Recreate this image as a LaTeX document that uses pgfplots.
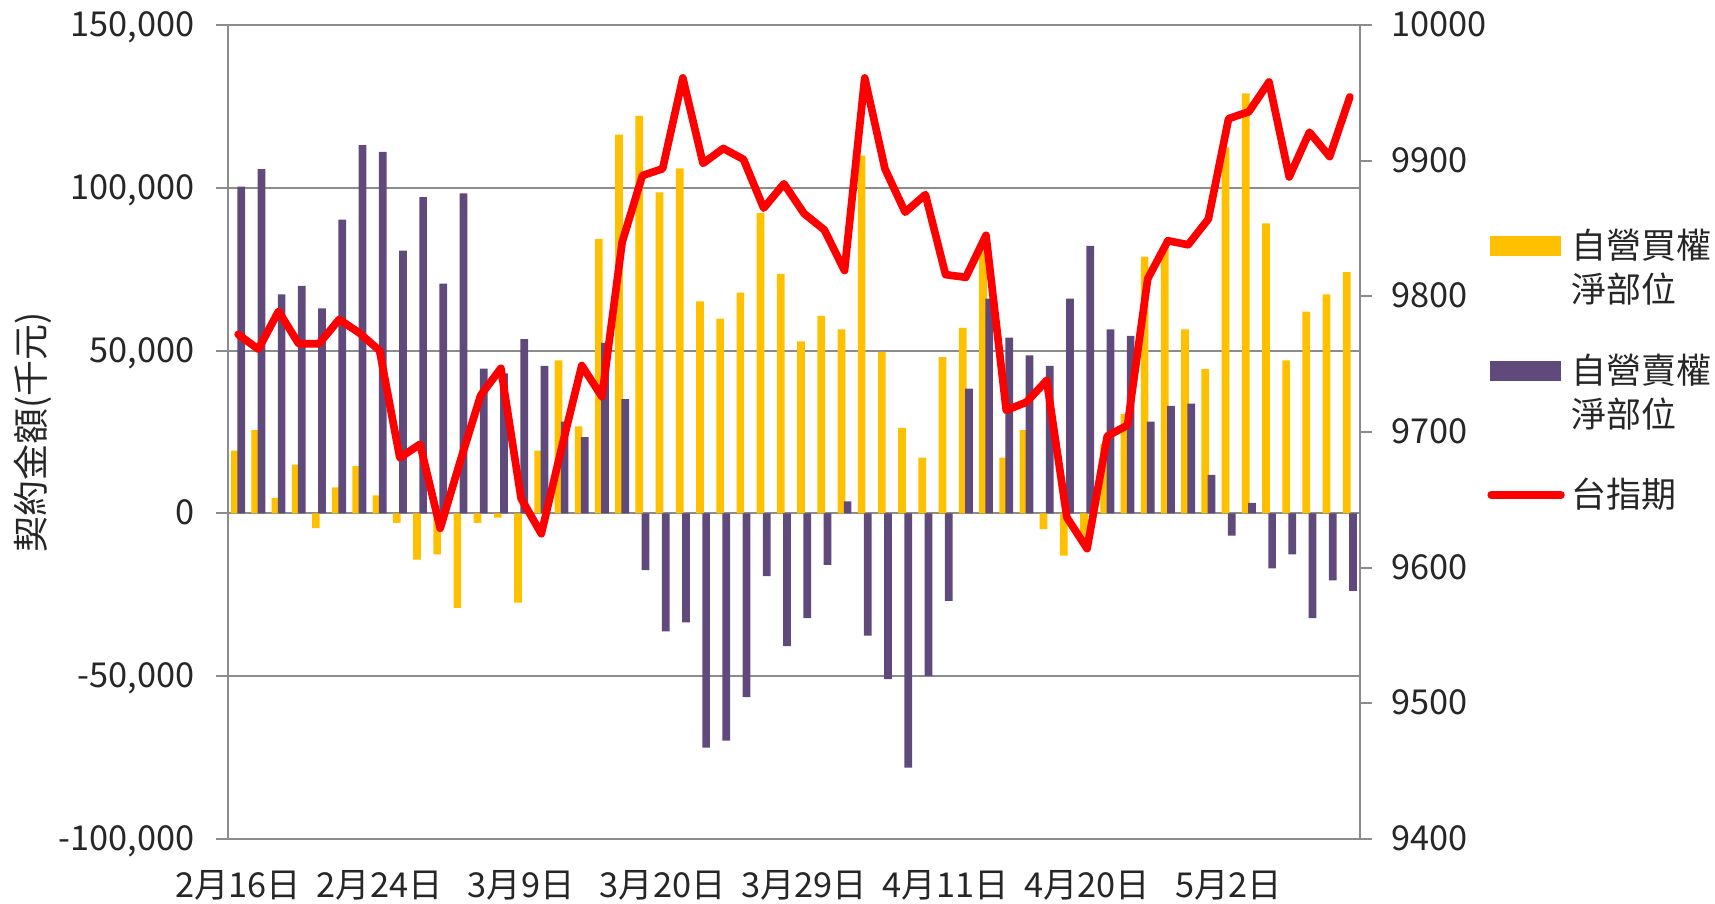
\documentclass[border=0pt]{standalone}
\usepackage{fontspec}
\setmainfont{Noto Sans CJK TC}
\usepackage{pgfplots}
\pgfplotsset{compat=1.18}
\usepackage{pgfplotstable}
\definecolor{barY}{HTML}{FFC000}
\definecolor{barP}{HTML}{604A7B}
\definecolor{gridg}{HTML}{8C8C8C}
\definecolor{txt}{HTML}{262626}

\pgfplotstableread{
i buy sell fut
0 19300 100400 9772
1 25600 105700 9761
2 4800 67300 9789
3 15000 69900 9765
4 -4500 63000 9765
5 8000 90200 9783
6 14500 113100 9773
7 5500 111000 9760
8 -2900 80700 9681
9 -14200 97100 9691
10 -12600 70600 9629
11 -29000 98300 9679
12 -2900 44500 9727
13 -1300 43000 9747
14 -27400 53500 9651
15 19300 45300 9625
16 47000 28200 9688
17 26700 23400 9749
18 84300 52400 9726
19 116300 35100 9840
20 122100 -17400 9889
21 98600 -36200 9894
22 106000 -33500 9961
23 65100 -71900 9898
24 59800 -69800 9909
25 67800 -56400 9901
26 92300 -19300 9865
27 73600 -40800 9883
28 52800 -32200 9861
29 60700 -15800 9849
30 56500 3700 9819
31 109900 -37500 9961
32 49600 -50900 9894
33 26300 -78100 9862
34 17100 -49900 9875
35 48000 -26900 9816
36 57000 38300 9814
37 82200 66000 9845
38 17100 54000 9716
39 25600 48500 9722
40 -4800 45300 9738
41 -13000 66000 9637
42 -8000 82200 9614
43 21300 56500 9697
44 30600 54500 9705
45 78900 28200 9813
46 81400 33000 9841
47 56500 33700 9838
48 44300 11800 9857
49 112400 -6800 9931
50 129000 3200 9936
51 89100 -16900 9958
52 47000 -12600 9888
53 62000 -32200 9921
54 67300 -20600 9903
55 74100 -23800 9947
}\data

\begin{document}
\begin{tikzpicture}[font=\fontsize{10.3}{12.4}\selectfont]
\useasboundingbox (-68.4pt,-19.2pt) rectangle (446.1pt,251.7pt);
\begin{axis}[
  scale only axis, width=339.6pt, height=244.2pt,
  xmin=-0.5, xmax=55.5, ymin=-100000, ymax=150000,
  scaled ticks=false,
  axis line style={gridg, line width=0.6pt},
  ymajorgrids, grid style={gridg, line width=0.6pt},
  ytick={-100000,-50000,0,50000,100000,150000},
  yticklabels={{-100,000},{-50,000},0,{50,000},{100,000},{150,000}},
  xtick={0,7,14,21,28,35,42,49},
  xticklabels={2月16日,2月24日,3月9日,3月20日,3月29日,4月11日,4月20日,5月2日},
  ytick pos=left, xtick pos=bottom,
  tick align=outside, major tick length=3.6pt,
  ytick style={gridg, line width=0.6pt},
  xtick style={draw=none},
  yticklabel style={text=txt, font=\fontsize{10.3}{12.4}\selectfont, inner sep=1pt, text height=6.9pt, text depth=0pt, xshift=-5.3pt},
  xticklabel style={text=txt, font=\fontsize{10.3}{12.4}\selectfont, yshift=-2.3pt},
  ylabel={契約金額(千元)},
  every axis y label/.style={at={(axis description cs:-0.1723,0.5)}, rotate=90, anchor=center, text=txt, font=\fontsize{10.8}{13}\selectfont},
]
\addplot[ybar, fill=barY, draw=none, bar width=2.31pt, bar shift=-0.93pt] table[x=i,y=buy]{\data};
\addplot[ybar, fill=barP, draw=none, bar width=2.31pt, bar shift=0.93pt] table[x=i,y=sell]{\data};
\end{axis}
\begin{axis}[
  scale only axis, width=339.6pt, height=244.2pt,
  xmin=-0.5, xmax=55.5, ymin=9400, ymax=10000,
  scaled ticks=false,
  axis x line=none, axis y line*=right,
  axis line style={-, gridg, line width=0.6pt},
  ytick={9400,9500,9600,9700,9800,9900,10000},
  yticklabels={9400,9500,9600,9700,9800,9900,10000},
  tick align=outside, major tick length=3.6pt,
  ytick style={gridg, line width=0.6pt},
  yticklabel style={text=txt, font=\fontsize{10.3}{12.4}\selectfont, inner sep=1pt, text height=6.9pt, text depth=0pt, xshift=4.7pt},
  legend style={at={(axis description cs:1.112,0.755)}, anchor=north west, draw=none, fill=none, inner sep=0pt, row sep=9.3pt, column sep=1pt, cells={anchor=base west}, nodes={inner sep=1pt, text depth=, text=txt, font=\fontsize{10.5}{13.1}\selectfont}},
]
\addlegendimage{legend image code/.code={\fill[barY] (0pt,1.2pt) rectangle (20.7pt,6.6pt);}}
\addlegendentry{\begin{tabular}[t]{@{}l@{}}自營買權\\淨部位\end{tabular}}
\addlegendimage{legend image code/.code={\fill[barP] (0pt,1.2pt) rectangle (20.7pt,6.6pt);}}
\addlegendentry{\begin{tabular}[t]{@{}l@{}}自營賣權\\淨部位\end{tabular}}
\addplot[red, line width=2.3pt, line join=round, line cap=round, legend image code/.code={\draw[red,line width=2.2pt,line cap=round] (0pt,3.9pt) -- (21pt,3.9pt);}] table[x=i,y=fut]{\data};
\addlegendentry{台指期}
\end{axis}
\end{tikzpicture}
\end{document}
